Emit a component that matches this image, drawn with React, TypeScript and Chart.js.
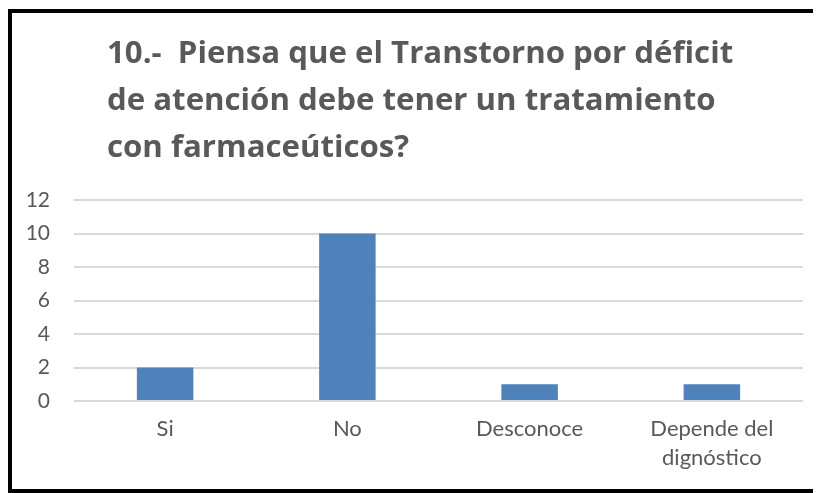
import React, { useEffect, useRef } from "react";
import { Chart, registerables } from "chart.js";

Chart.register(...registerables);

const titleLines = [
  "10.-  Piensa que el Transtorno por déficit",
  "de atención debe tener un tratamiento",
  "con farmaceúticos?",
];
const categories: (string | string[])[] = ["Si", "No", "Desconoce", ["Depende del", "dignóstico"]];
const values = [2, 10, 1, 1];
const yTicks = { min: 0, max: 12, step: 2 };

const FONT = "Lato, 'Open Sans', sans-serif";
const TITLE_FONT = "'Open Sans', Lato, sans-serif";
const TEXT = "#595959";

const titlePlugin = {
  id: "blockTitle",
  afterDraw(chart: any) {
    const ctx = chart.ctx;
    ctx.save();
    ctx.font = `bold 31.2px ${TITLE_FONT}`;
    ctx.fillStyle = TEXT;
    ctx.textAlign = "left";
    ctx.textBaseline = "alphabetic";
    const baselines = [50, 97, 144];
    titleLines.forEach((t, i) => ctx.fillText(t, 95, baselines[i]));
    ctx.restore();
  },
};

export default function App() {
  const ref = useRef<HTMLCanvasElement>(null);
  useEffect(() => {
    const chart = new Chart(ref.current!, {
      type: "bar",
      data: {
        labels: categories as any,
        datasets: [
          {
            data: values,
            backgroundColor: "#4F81BD",
            borderWidth: 0,
            barPercentage: 0.31,
            categoryPercentage: 1,
          },
        ],
      },
      options: {
        animation: false,
        responsive: false,
        layout: { padding: { top: 187, right: 18, left: 0, bottom: 0 } },
        plugins: { legend: { display: false }, title: { display: false }, tooltip: { enabled: false } },
        scales: {
          x: {
            grid: { display: false, drawTicks: false },
            border: { display: false },
            ticks: { color: TEXT, font: { family: FONT, size: 22, lineHeight: 1.3 }, padding: 14, maxRotation: 0 },
            afterFit: (s: any) => {
              s.height = 88;
            },
          },
          y: {
            min: yTicks.min,
            max: yTicks.max,
            grid: { color: "#D9D9D9", lineWidth: 2, drawTicks: false },
            border: { display: false },
            ticks: { stepSize: yTicks.step, color: TEXT, font: { family: FONT, size: 21 }, padding: 24 },
            afterFit: (s: any) => {
              s.width = 62;
            },
          },
        },
      },
      plugins: [titlePlugin],
    });
    return () => chart.destroy();
  }, []);
  return (
    <div
      style={{
        marginTop: 1,
        width: 813,
        height: 484,
        boxSizing: "border-box",
        borderTop: "4px solid #000",
        borderLeft: "4px solid #000",
        borderBottom: "4px solid #000",
        overflow: "hidden",
        background: "#fff",
      }}
    >
      <canvas ref={ref} width={809} height={476} style={{ display: "block" }} />
    </div>
  );
}
